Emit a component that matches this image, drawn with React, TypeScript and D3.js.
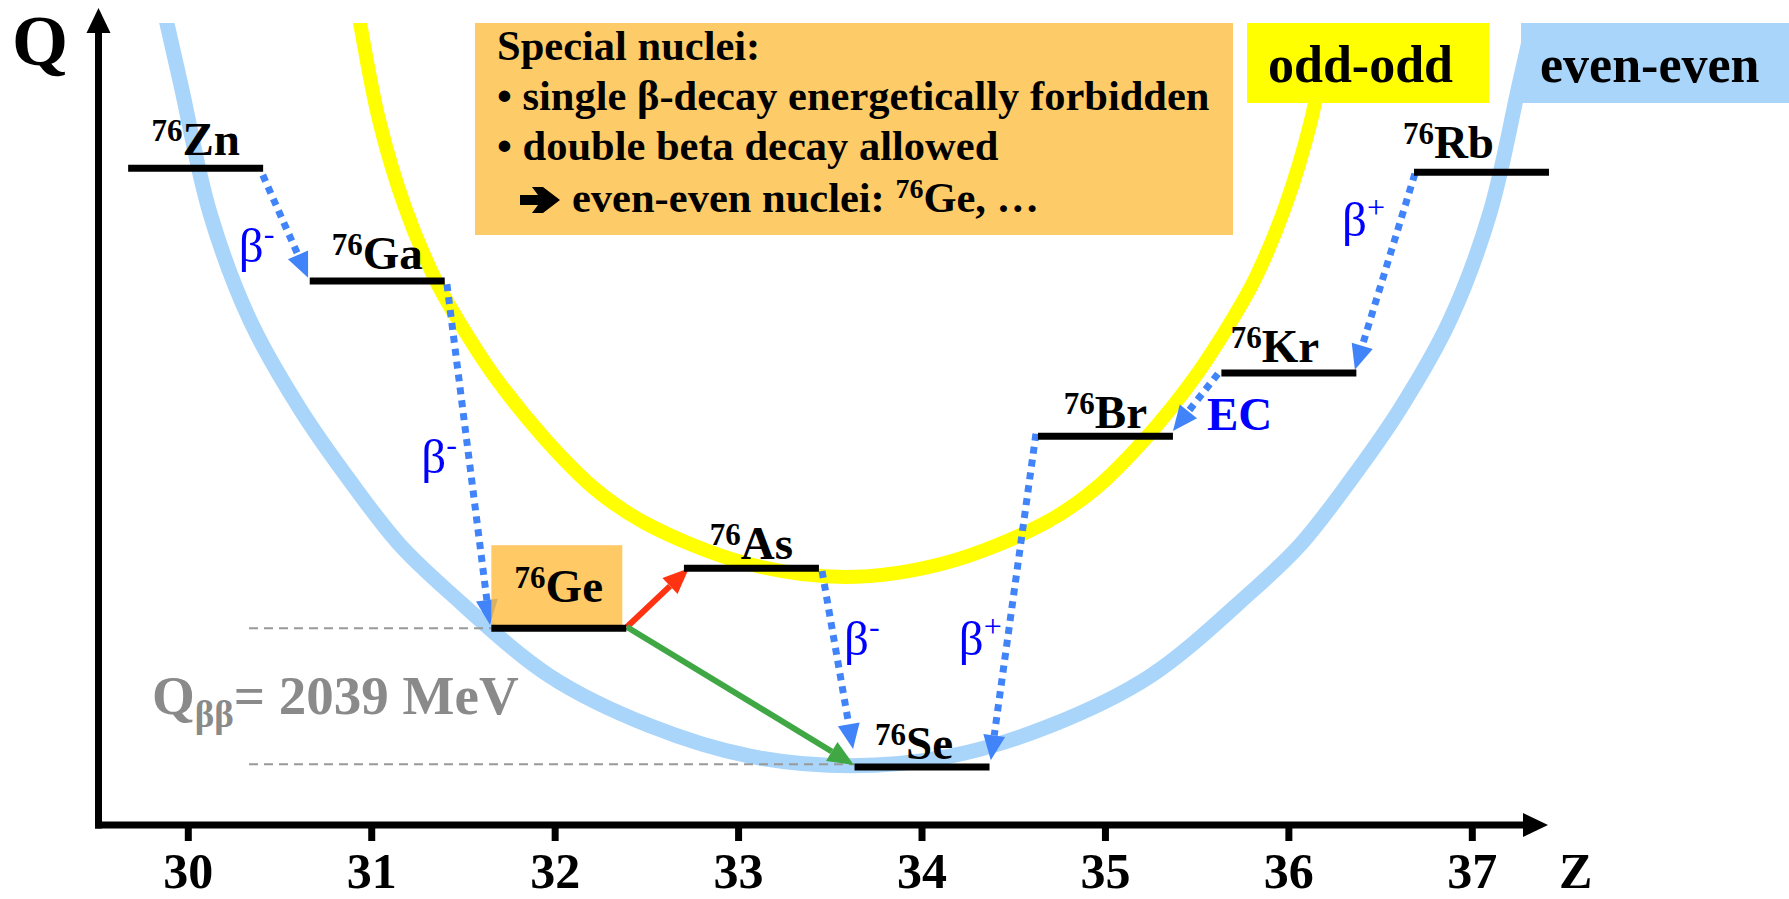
import React from 'react';
import * as d3 from 'd3';

const WIDTH = 1789;
const HEIGHT = 899;

// ---------- data ----------
const zTicks = [30, 31, 32, 33, 34, 35, 36, 37];
const massNumber = '76';
const elements = ['Zn', 'Ga', 'Ge', 'As', 'Se', 'Br', 'Kr', 'Rb'];
const levelZ = [30.04, 31.03, 32.02, 33.07, 34.0, 35.0, 36.0, 37.05];
const levelQ = [82.1, 68.0, 24.6, 32.1, 7.25, 48.6, 56.5, 81.6];

// even-even mass parabola (Z, Q)
const evenEvenZ = [29.791, 29.955, 30.118, 30.336, 30.609, 30.882, 31.154, 31.427, 31.972, 32.517, 33.062, 33.607, 34.153, 34.698, 35.243, 35.788, 36.061, 36.333, 36.606, 36.878, 37.096, 37.26, 37.424];
const evenEvenQ = [109.5, 93.0, 76.5, 63.1, 52.0, 43.0, 35.0, 29.0, 18.6, 12.4, 8.6, 7.4, 8.6, 12.4, 18.6, 29.0, 35.0, 43.0, 52.0, 63.1, 76.5, 93.0, 109.5];
// odd-odd mass parabola
const oddOddZ = [30.854, 30.936, 31.04, 31.181, 31.345, 31.454, 31.672, 31.945, 32.217, 32.49, 33.035, 33.58, 34.125, 34.67, 34.943, 35.216, 35.488, 35.706, 35.815, 35.979, 36.121, 36.224, 36.306];
const oddOddQ = [111.0, 100.25, 88.1, 77.25, 68.25, 63.75, 56.0, 48.25, 42.0, 37.75, 32.75, 31.0, 32.75, 37.75, 42.0, 48.25, 56.0, 63.75, 68.25, 77.25, 88.1, 100.25, 111.0];

// single decays
const decayKind = ['β', 'β', 'β', 'β', 'EC', 'β'];
const decaySign = ['-', '-', '-', '+', '', '+'];
const decayFromZ = [30.406, 31.41, 33.455, 34.621, 35.613, 36.687];
const decayFromQ = [81.25, 67.6, 31.75, 48.9, 56.4, 81.4];
const decayToZ = [30.653, 31.645, 33.624, 34.375, 35.368, 36.36];
const decayToQ = [68.4, 25.0, 9.5, 8.1, 49.25, 56.9];
const decayLabelZ = [30.275, 31.27, 33.575, 34.2, 35.553, 36.29];
const decayLabelQ = [70.4, 44.0, 21.25, 21.25, 49.4, 73.6];

// Ge paths: to As (red, forbidden single beta) and to Se (green, double beta)
const gePathFrom: [number, number] = [32.391, 24.75];
const geToAs: [number, number] = [32.729, 32.1];
const geToSe: [number, number] = [33.629, 7.5];

// Q_bb reference levels (Ge and Se)
const qbbLevels = [24.6, 7.6];
const qbbLabel = 'Q';
const qbbSub = 'ββ';
const qbbValue = '= 2039 MeV';

const infoTitle = 'Special nuclei:';
const infoLines = ['• single β-decay energetically forbidden', '• double beta decay allowed'];
const infoLast = ['even-even nuclei: ', '76', 'Ge, …'];

// ---------- layout ----------
const levelHalfWidth = 0.368;
const labelDx = [0, 0, 0, 0, -8, 0, -14, -33];
const labelDy = [-13, -12, -26, -9, -8, -8, -11, -14];

const x = d3.scaleLinear().domain([30, 37]).range([188.3, 1472.3]);
const y = d3.scaleLinear().domain([0, 100]).range([825, 25]);

const BLUE_CURVE = '#a9d5fb';
const YELLOW = '#ffff00';
const ORANGE = '#fecb69';
const DOT_BLUE = '#4184fa';
const SERIF = '"Liberation Serif", "Times New Roman", serif';

function arrowGeom(x1: number, y1: number, x2: number, y2: number, len: number, half: number) {
  const dx = x2 - x1, dy = y2 - y1;
  const d = Math.hypot(dx, dy);
  const ux = dx / d, uy = dy / d;
  const bx = x2 - ux * len, by = y2 - uy * len;
  const px = -uy, py = ux;
  const head = `${x2},${y2} ${bx + px * half},${by + py * half} ${bx - px * half},${by - py * half}`;
  return { bx, by, head };
}

const curveLine = d3
  .line<[number, number]>()
  .x((d) => x(d[0]))
  .y((d) => y(d[1]))
  .curve(d3.curveCatmullRom.alpha(0.5));

export default function App() {
  const evenPts = evenEvenZ.map((z, i) => [z, evenEvenQ[i]] as [number, number]);
  const oddPts = oddOddZ.map((z, i) => [z, oddOddQ[i]] as [number, number]);

  const geLeft = x(levelZ[2] - levelHalfWidth);
  const geRight = x(levelZ[2] + levelHalfWidth);
  const geY = y(levelQ[2]);

  const red = arrowGeom(x(gePathFrom[0]), y(gePathFrom[1]), x(geToAs[0]), y(geToAs[1]), 26, 11);
  const green = arrowGeom(x(gePathFrom[0]), y(gePathFrom[1]), x(geToSe[0]), y(geToSe[1]), 26, 11);

  return (
    <svg
      width={WIDTH}
      height={HEIGHT}
      style={{ position: 'absolute', left: 0, top: 0, display: 'block', background: '#fff' }}
      fontFamily={SERIF}
    >
      <defs>
        <clipPath id="plotClip">
          <rect x={0} y={23} width={WIDTH} height={HEIGHT - 23} />
        </clipPath>
      </defs>

      {/* info boxes */}
      <rect x={475} y={23} width={758} height={212} fill={ORANGE} />
      <rect x={1247} y={23} width={242} height={80} fill={YELLOW} />
      <rect x={1521} y={23} width={WIDTH - 1521} height={80} fill={BLUE_CURVE} />

      {/* parabolas */}
      <g clipPath="url(#plotClip)" fill="none">
        <path d={curveLine(evenPts) || ''} stroke={BLUE_CURVE} strokeWidth={15} />
        <path d={curveLine(oddPts) || ''} stroke={YELLOW} strokeWidth={14} />
      </g>

      {/* Q_bb dashed reference lines */}
      {qbbLevels.map((q, i) => (
        <line
          key={i}
          x1={249}
          x2={i === 0 ? geLeft : x(levelZ[4] - levelHalfWidth)}
          y1={y(q)}
          y2={y(q)}
          stroke="#999"
          strokeWidth={2}
          strokeDasharray="9 6"
        />
      ))}

      {/* single decays (dotted blue) */}
      {decayFromZ.map((z, i) => {
        const x1 = x(z), y1 = y(decayFromQ[i]);
        const x2 = x(decayToZ[i]), y2 = y(decayToQ[i]);
        const g = arrowGeom(x1, y1, x2, y2, 25, 11);
        return (
          <g key={i}>
            <line x1={x1} y1={y1} x2={g.bx} y2={g.by} stroke={DOT_BLUE} strokeWidth={7} strokeDasharray="7 6" />
            <polygon points={g.head} fill={DOT_BLUE} />
          </g>
        );
      })}

      {/* Ge highlight box */}
      <rect x={geLeft} y={geY - 83} width={geRight - geLeft - 4} height={82} fill="#ffbd40" fillOpacity={0.8} />

      {/* red and green arrows */}
      <line x1={x(gePathFrom[0])} y1={y(gePathFrom[1])} x2={red.bx} y2={red.by} stroke="#ff3311" strokeWidth={6} />
      <polygon points={red.head} fill="#ff3311" />
      <line x1={x(gePathFrom[0])} y1={y(gePathFrom[1])} x2={green.bx} y2={green.by} stroke="#3fa845" strokeWidth={6} />
      <polygon points={green.head} fill="#3fa845" />

      {/* levels */}
      {elements.map((el, i) => (
        <line
          key={el}
          x1={x(levelZ[i] - levelHalfWidth)}
          x2={x(levelZ[i] + levelHalfWidth)}
          y1={y(levelQ[i])}
          y2={y(levelQ[i])}
          stroke="#000"
          strokeWidth={7}
        />
      ))}
      {elements.map((el, i) => (
        <text
          key={'t' + el}
          x={x(levelZ[i]) + labelDx[i]}
          y={y(levelQ[i]) + labelDy[i]}
          textAnchor="middle"
          fontWeight="bold"
          fontSize={47}
          fill="#000"
        >
          <tspan fontSize={31} dy={-14}>{massNumber}</tspan>
          <tspan dy={14}>{el}</tspan>
        </text>
      ))}

      {/* decay labels */}
      {decayKind.map((k, i) =>
        k === 'EC' ? (
          <text key={'d' + i} x={x(decayLabelZ[i])} y={y(decayLabelQ[i])} fontSize={47} fontWeight="bold" fill="#0000ff">
            {k}
          </text>
        ) : (
          <text key={'d' + i} x={x(decayLabelZ[i])} y={y(decayLabelQ[i])} fontSize={49} fill="#0000ff">
            {k}
            <tspan fontSize={32} dy={-18}>{decaySign[i]}</tspan>
          </text>
        )
      )}

      {/* Q_bb label */}
      <text x={152} y={714} fontSize={55} fontWeight="bold" fill="#8a8a8a">
        {qbbLabel}
        <tspan fontSize={37} dy={13}>{qbbSub}</tspan>
        <tspan dy={-13}>{qbbValue}</tspan>
      </text>

      {/* info text */}
      <g fontWeight="bold" fontSize={42.5} fill="#000">
        <text x={497} y={60}>{infoTitle}</text>
        {infoLines.map((l, i) => (
          <text key={i} x={497} y={110 + i * 50}>{l}</text>
        ))}
        <text x={572} y={212}>
          {infoLast[0]}
          <tspan fontSize={28} dy={-14}>{infoLast[1]}</tspan>
          <tspan dy={14}>{infoLast[2]}</tspan>
        </text>
      </g>
      {/* heavy arrow bullet */}
      <polygon
        points="520,195 538,195 532,187 543,187 560,200 543,213 532,213 538,205 520,205"
        fill="#000"
      />
      <text x={1268} y={82} fontSize={52} fontWeight="bold">odd-odd</text>
      <text x={1540} y={82} fontSize={52} fontWeight="bold">even-even</text>

      {/* axes */}
      <line x1={98.5} y1={828.5} x2={98.5} y2={30} stroke="#000" strokeWidth={7} />
      <polygon points="98.5,8 86.5,33 110.5,33" fill="#000" />
      <line x1={95} y1={825} x2={1526} y2={825} stroke="#000" strokeWidth={7} />
      <polygon points="1548,825 1523,813 1523,837" fill="#000" />
      {zTicks.map((t) => (
        <g key={t}>
          <line x1={x(t)} x2={x(t)} y1={828} y2={841} stroke="#000" strokeWidth={7} />
          <text x={x(t)} y={888} textAnchor="middle" fontSize={50} fontWeight="bold">
            {t}
          </text>
        </g>
      ))}
      <text x={1559} y={888} fontSize={50} fontWeight="bold">Z</text>
      <text x={12} y={65} fontSize={72} fontWeight="bold">Q</text>
    </svg>
  );
}
